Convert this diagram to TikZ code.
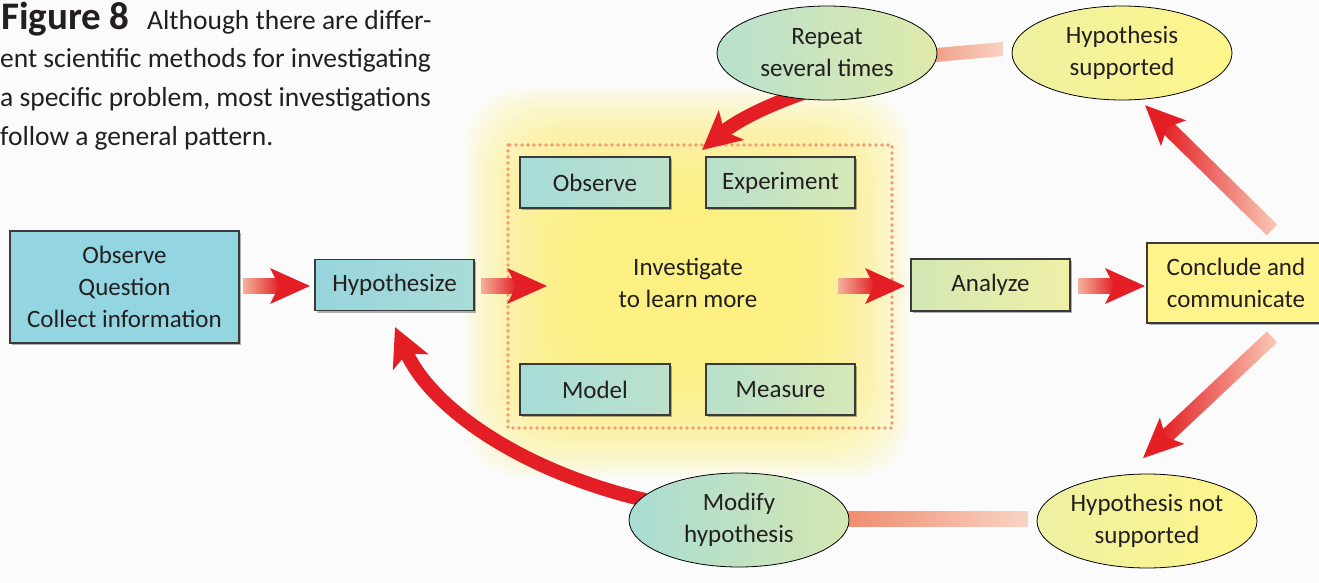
\documentclass[tikz,border=0pt]{standalone}
\usepackage{fontspec}
\setmainfont{Carlito}
\usetikzlibrary{shapes.geometric,shadows,arrows.meta}
\definecolor{ink}{HTML}{231F20}
\definecolor{ared}{HTML}{E31E24}
\definecolor{apale}{HTML}{F4B29A}
\definecolor{dpale}{HTML}{F9CAB6}
\definecolor{bgc}{HTML}{FBFBFB}
\definecolor{glowc}{HTML}{FFF07A}
\definecolor{dotc}{HTML}{F39A6E}
\definecolor{cyanA}{HTML}{93D6E1}
\definecolor{cyanB}{HTML}{97D5DD}
\definecolor{cyanC}{HTML}{A9DCD7}
\definecolor{tealA}{HTML}{A6DCD8}
\definecolor{tealB}{HTML}{BCE1CC}
\definecolor{grnA}{HTML}{B8E0CA}
\definecolor{grnB}{HTML}{D6E8B6}
\definecolor{anA}{HTML}{D3E7B4}
\definecolor{anB}{HTML}{EFF0A6}
\definecolor{yelC}{HTML}{FFF38C}
\definecolor{yelA}{HTML}{EEF0A2}
\definecolor{yelB}{HTML}{FFF68A}
\definecolor{repA}{HTML}{B8E0CE}
\definecolor{repB}{HTML}{DFEAAB}
\definecolor{modA}{HTML}{A9DCD3}
\definecolor{modB}{HTML}{D4E7B3}
\definecolor{boxline}{HTML}{3A3A3A}
\definecolor{ctopA}{HTML}{F0987C}
\definecolor{ctopB}{HTML}{F9D2C4}
\definecolor{cbotA}{HTML}{EF8A6B}
\definecolor{cbotB}{HTML}{F9D3C5}
\tikzset{
  txt/.style={text=ink, font=\fontsize{25}{32}\selectfont, align=center},
  box/.style={txt, draw=boxline, line width=1.2pt, inner sep=0pt,
    drop shadow={shadow xshift=2pt, shadow yshift=-2pt, opacity=0.3, fill=black}},
  ell/.style={txt, ellipse, draw=black, line width=0.8pt, inner sep=0pt,
    minimum width=220pt, minimum height=94pt},
  captxt/.style={text=ink, font=\fontsize{27.5}{39}\selectfont, anchor=base west, inner sep=0pt},
  pics/garrow/.style args={#1/#2/#3}{code={
    \shade[left color=#2, right color=#3] (0,-7.5) rectangle (#1-30,7.5);
    \fill[ared] (#1,0) -- (#1-40,18) -- (#1-31,0) -- (#1-40,-18) -- cycle;
  }},
  bigtip/.style={-{Stealth[length=38pt,width=38pt,inset=9pt]}}
}
\begin{document}
\begin{tikzpicture}[x=1pt,y=1pt]
\useasboundingbox (0,0) rectangle (1319,-583);
\clip (0,0) rectangle (1319,-583);
\fill[bgc] (0,0) rectangle (1319,-583);
% glow
\foreach \i in {0,...,25}{
  \fill[glowc, opacity=0.085, rounded corners=60pt]
    (465+\i*5,-88-\i*5) rectangle (910-\i*5,-478+\i*5);
}
\draw[dotc, line width=3.6pt, line cap=round, dash pattern=on 0pt off 6pt]
  (508,-145) rectangle (892,-428);
% caption
\node[captxt, font=\fontsize{39}{39}\selectfont\bfseries] (fig) at (1,-30) {Figure 8};
\node[captxt] (c1) at (147,-30) {Although there are differ-};
\node[captxt] (c2) at (0,-68) {ent scientific methods for investigating};
\node[captxt] (c3) at (0,-107) {a specific problem, most investigations};
\node[captxt] (c4) at (0,-146) {follow a general pattern.};
% connectors between ellipses (behind)
\shade[left color=ctopA, right color=ctopB]
  (925,-49) -- (1003,-42) -- (1003,-56) -- (925,-63) -- cycle;
\shade[left color=cbotA, right color=cbotB]
  (840,-511) rectangle (1028,-526);
% curved arrows
\coordinate (r0) at (806,-92);
\coordinate (r1) at (702,-150);
\draw[ared, line width=14pt, bigtip] (r0) .. controls (765,-106) and (735,-122) .. (r1);
\coordinate (m0) at (645,-500);
\coordinate (m1) at (395,-327);
\draw[ared, line width=14pt, bigtip] (m0) .. controls (525,-472) and (432,-410) .. (m1);
% boxes
\node[box, fill=cyanA, minimum width=229pt, minimum height=112pt] (start) at (124.5,-287)
  {Observe\\Question\\Collect information};
\node[box, left color=cyanB, right color=cyanC, minimum width=159pt, minimum height=51pt] (hyp) at (394.5,-285) {Hypothesize};
\node[box, left color=tealA, right color=tealB, minimum width=150pt, minimum height=51pt] (obs) at (595,-182.5) {Observe};
\node[box, left color=grnA, right color=grnB, minimum width=149pt, minimum height=51pt] (exp) at (780.5,-182.5) {Experiment};
\node[box, left color=tealA, right color=tealB, minimum width=150pt, minimum height=51pt] (mod) at (595,-389.5) {Model};
\node[box, left color=grnA, right color=grnB, minimum width=149pt, minimum height=51pt] (mea) at (780.5,-389.5) {Measure};
\node[txt] (inv) at (688,-283) {Investigate\\to learn more};
\node[box, left color=anA, right color=anB, minimum width=159pt, minimum height=52pt] (ana) at (990.5,-285) {Analyze};
\node[box, fill=yelC, minimum width=178pt, minimum height=80pt] (con) at (1236,-283) {Conclude and\\communicate};
% ellipses
\node[ell, left color=repA, right color=repB] (rep) at (827,-53) {Repeat\\several times};
\node[ell, left color=yelA, right color=yelB] (hs) at (1122,-53) {Hypothesis\\supported};
\node[ell, left color=modA, right color=modB] (mh) at (739,-520) {Modify\\hypothesis};
\node[ell, left color=yelA, right color=yelB] (hn) at (1147,-521) {Hypothesis not\\supported};
% straight gradient arrows
\pic at (243,-286) {garrow=67/apale/ared};
\pic at (481,-286) {garrow=66/apale/ared};
\pic at (838,-286) {garrow=67/apale/ared};
\pic at (1078,-286) {garrow=67/apale/ared};
\pic[rotate=135.5] at (1272,-230) {garrow=178/ared/dpale};
\pic[rotate=223.2] at (1272,-337) {garrow=177/ared/dpale};
\end{tikzpicture}
\end{document}
